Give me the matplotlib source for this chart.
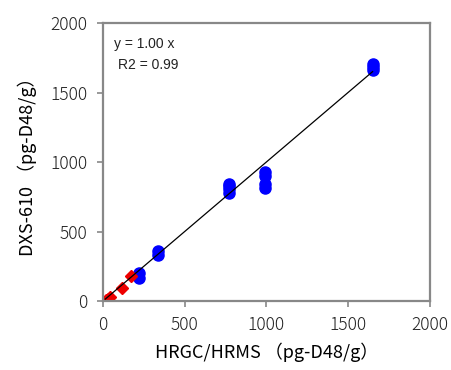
import numpy as np
import matplotlib.pyplot as plt

plt.rcParams['font.family'] = ['Noto Sans CJK JP', 'DejaVu Sans']

# HRGC/HRMS vs DXS-610 (pg-D48/g)
blue_x = [220, 220, 340, 340, 770, 770, 770, 770, 990, 990, 990, 990, 1650, 1650, 1650]
blue_y = [165, 200, 330, 360, 780, 805, 825, 840, 810, 840, 900, 925, 1660, 1685, 1705]
red_x = [20, 30, 45, 115, 170]
red_y = [5, 15, 30, 95, 180]

slope = 1.00
r2 = 0.99
fit_x = [15, 1650]

fig = plt.figure(figsize=(4.51, 3.70), dpi=100)
ax = fig.add_axes([0.228, 0.186, 0.725, 0.752])

ax.plot(fit_x, [slope * v for v in fit_x], color='black', lw=0.9, zorder=3)
ax.plot(blue_x, blue_y, 'o', color='#0000ff', ms=8, mec='#0000ff', zorder=2)
ax.plot(red_x, red_y, 'D', color='#ee0000', ms=6.5, mec='#ee0000', zorder=2)

ax.set_xlim(0, 2000)
ax.set_ylim(0, 2000)
ax.set_xticks([0, 500, 1000, 1500, 2000])
ax.set_yticks([0, 500, 1000, 1500, 2000])

for s in ax.spines.values():
    s.set_color('#888888')
    s.set_linewidth(1.6)
ax.tick_params(direction='out', length=4, width=1.2, color='#888888',
               labelsize=12.5, labelcolor='#222222', pad=7)
for lab in ax.get_xticklabels() + ax.get_yticklabels():
    lab.set_fontweight('light')

ax.set_xlabel('HRGC/HRMS （pg-D48/g）', fontsize=13, labelpad=6)
ax.set_ylabel('DXS-610 （pg-D48/g）', fontsize=13, labelpad=10)

ax.text(0.035, 0.925, f'y = {slope:.2f} x', transform=ax.transAxes,
        fontsize=10, family='Liberation Sans', color='#222222', va='center')
ax.text(0.045, 0.85, f'R2 = {r2:.2f}', transform=ax.transAxes,
        fontsize=10, family='Liberation Sans', color='#222222', va='center')

fig.savefig('out.png', dpi=100)
